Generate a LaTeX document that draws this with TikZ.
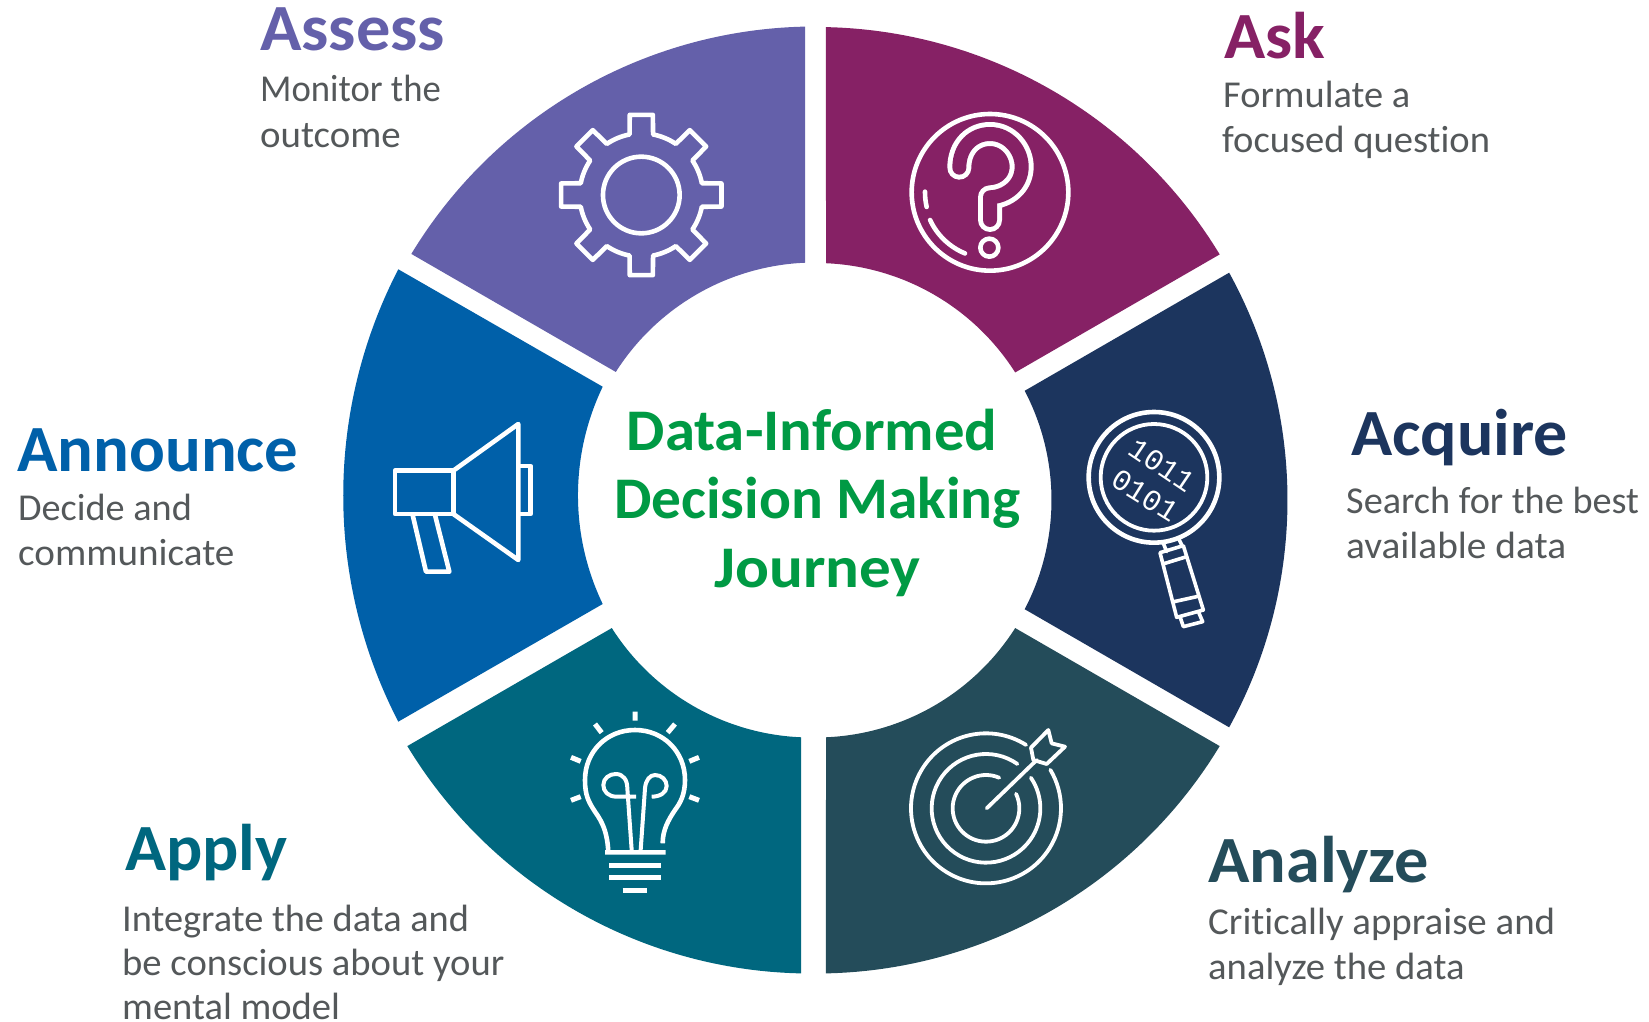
\documentclass[tikz,border=0pt]{standalone}
\usepackage{graphicx}
\usepackage{fontspec}
\setmainfont[Ligatures={NoCommon,NoDiscretionary}]{Carlito}
\newfontfamily\monodigits{Liberation Mono}
\definecolor{cAsk}{HTML}{862165}
\definecolor{cAcquire}{HTML}{1C355E}
\definecolor{cAnalyze}{HTML}{244C5A}
\definecolor{cApply}{HTML}{00677F}
\definecolor{cAnnounce}{HTML}{0060A9}
\definecolor{cAssess}{HTML}{6460AA}
\definecolor{cBody}{HTML}{54585A}
\definecolor{cGreen}{HTML}{009A44}
\usetikzlibrary{calc}
\newcommand\ringsector[5]{%
  \fill[#1] (#2,#3) ++({#4+1.21}:472) arc[start angle={#4+1.21},end angle={#5-1.21},radius=472]
    -- ($(#2,#3)+({#5-2.43}:236)$) arc[start angle={#5-2.43},end angle={#4+2.43},radius=236] -- cycle;}
\newcommand\sx[2]{\scalebox{#1}[1]{#2}}
\tikzset{
  head/.style={anchor=base west,inner sep=0pt,font=\fontsize{66}{66}\selectfont\bfseries},
  bodytxt/.style={anchor=base west,inner sep=0pt,text=cBody,font=\fontsize{38}{38}\selectfont},
  middle/.style={anchor=base,inner sep=0pt,text=cGreen,font=\fontsize{59}{59}\selectfont\bfseries},
  icon/.style={draw=white,line width=4.6pt,line join=round,line cap=round},
  digits/.style={inner sep=0pt,text=white,font=\monodigits\fontsize{30}{30}\selectfont}
}
\begin{document}
\begin{tikzpicture}[x=1pt,y=-1pt]
\useasboundingbox (0,0) rectangle (1649,1022);
\fill[white] (0,0) rectangle (1649,1022);
% ring
\ringsector{cAsk}{816}{499}{-90}{-30}
\ringsector{cAcquire}{815.5}{500}{-30}{30}
\ringsector{cAnalyze}{816}{501.5}{30}{90}
\ringsector{cApply}{811}{501.5}{90}{150}
\fill[cAnnounce] (398.3,269.3) arc[start angle=207.37,end angle=152.63,radius=492] -- (602.7,604) arc[start angle=154.35,end angle=205.65,radius=251] -- cycle;
\ringsector{cAssess}{815}{498.5}{210}{270}
% question icon
\begin{scope}[shift={(800,0)},scale=1/3]
  \draw[icon] (570,577) circle[radius=235];
  \draw[white,line width=24pt,line cap=round,line join=round]
    (478,503) .. controls (478,440) and (520,402) .. (570,402) .. controls (625,402) and (665,450) .. (665,500) .. controls (665,555) and (620,590) .. (570,592) -- (570,660);
  \draw[cAsk,line width=14pt,line cap=round,line join=round]
    (478,503) .. controls (478,440) and (520,402) .. (570,402) .. controls (625,402) and (665,450) .. (665,500) .. controls (665,555) and (620,590) .. (570,592) -- (570,660);
  \draw[icon] (568,743) circle[radius=27];
  \draw[icon] (570,577) ++(180.6:195) arc[start angle=180.6,end angle=167,radius=195];
  \draw[icon] (570,577) ++(155.2:198) arc[start angle=155.2,end angle=112.3,radius=198];
\end{scope}
% magnifier icon
\begin{scope}[shift={(1020,380)},scale=1/3]
  \draw[icon] (402,292) circle[radius=196];
  \draw[icon,line width=3.8pt] (402,292) circle[radius=160];
  \draw[icon,line width=3.6pt] (430,490) -- (440,515) (478,480) -- (488,500)
    (420,518) -- (490,497) -- (550,690) -- (470,712) -- cycle
    (435,550) -- (500,530) (462,665) -- (530,650)
    (480,710) -- (490,740) -- (548,725) -- (535,695);
  \node[digits,rotate=-34] (bitsA) at (425,255) {1011};
  \node[digits,rotate=-32] (bitsB) at (375,347) {0101};
\end{scope}
% target icon
\begin{scope}[shift={(880,700)},scale=1/3]
  \draw[icon,line width=3.8pt] (318,325) ++(-57.7:225) arc[start angle=-57.7,end angle=-390.9,radius=225];
  \draw[icon,line width=3.8pt] (318,325) ++(-54.7:163) arc[start angle=-54.7,end angle=-394.3,radius=163];
  \draw[icon,line width=3.8pt] (318,325) ++(-66.6:100) arc[start angle=-66.6,end angle=-385.8,radius=100];
  \draw[icon,line width=3.8pt] (320,325) -- (470,180)
    (453,143) -- (505,90) -- (515,130) -- (555,140) -- (500,192) -- (460,180) -- cycle;
\end{scope}
% bulb icon
\begin{scope}[shift={(550,700)},scale=1/3]
  \draw[icon,line cap=butt,line width=5pt] (255,35) -- (255,62) (135,72) -- (155,98) (375,72) -- (353,98)
    (63,172) -- (92,184) (447,172) -- (418,184) (63,301) -- (92,290) (447,301) -- (418,290);
  \draw[icon,line cap=butt] (165,457) -- (347,457)
    (175,457) .. controls (172,400) and (160,370) .. (135,335) .. controls (115,305) and (105,285) .. (105,240)
    .. controls (105,155) and (170,90) .. (255,90) .. controls (340,90) and (405,155) .. (405,240)
    .. controls (405,285) and (390,310) .. (375,330) .. controls (355,360) and (338,390) .. (338,430);
  \draw[icon,line cap=butt,line width=4pt] (258,290) -- (200,290) .. controls (175,290) and (160,275) .. (160,255)
    .. controls (160,235) and (178,222) .. (197,222) .. controls (220,222) and (232,240) .. (232,265) -- (245,450);
  \draw[icon,line cap=butt,line width=4pt] (272,450) -- (285,265) .. controls (287,240) and (300,225) .. (315,225)
    .. controls (335,225) and (350,240) .. (350,258) .. controls (350,278) and (330,290) .. (305,290);
  \draw[icon,line cap=butt,line width=5.5pt] (178,496) -- (332,496) (178,533) -- (332,533) (218,572) -- (292,572);
\end{scope}
% megaphone icon
\begin{scope}[shift={(370,400)},scale=1/3]
  \draw[icon] (75,212) rectangle (250,342);
  \draw[icon] (250,212) -- (445,72) -- (445,480) -- (250,342);
  \draw[icon] (450,198) -- (482,198) -- (482,342) -- (450,342);
  \draw[icon] (128,345) -- (168,515) -- (238,515) -- (195,345);
\end{scope}
% gear icon
\begin{scope}[shift={(641.3,195)},scale=1/3]
  \draw[icon] (0,0) circle[radius=115];
  \draw[icon] (-11:185)
    foreach \a in {0,45,...,315} {
      -- ({\a-8.2}:243) -- ({\a+8.2}:243) -- ({\a+11}:185)
      arc[start angle={\a+11},end angle={\a+34},radius=185]
    } -- cycle;
\end{scope}
% texts
\node[head,text=cAssess] (tAssess) at (260,51) {\sx{1.036}{Assess}};
\node[bodytxt] (bAssessA) at (260,102) {\sx{.966}{Monitor the}};
\node[bodytxt] (bAssessB) at (260,147) {\sx{1.023}{outcome}};
\node[head,text=cAsk] (tAsk) at (1224,59) {\sx{1.03}{Ask}};
\node[bodytxt] (bAskA) at (1223,108) {\sx{1.01}{Formulate a}};
\node[bodytxt] (bAskB) at (1222,153) {\sx{1.015}{focused question}};
\node[head,text=cAcquire] (tAcquire) at (1351,455) {\sx{1.03}{Acquire}};
\node[bodytxt] (bAcquireA) at (1346,513) {\sx{1.007}{Search for the best}};
\node[bodytxt] (bAcquireB) at (1346,558) {\sx{1.035}{available data}};
\node[head,text=cAnnounce] (tAnnounce) at (17,471) {\sx{1.011}{Announce}};
\node[bodytxt] (bAnnounceA) at (18,520) {\sx{1.006}{Decide and}};
\node[bodytxt] (bAnnounceB) at (18,565) {\sx{1.03}{communicate}};
\node[head,text=cApply] (tApply) at (125,870) {\sx{1.025}{Apply}};
\node[bodytxt] (bApplyA) at (122,931) {\sx{1.009}{Integrate the data and}};
\node[bodytxt] (bApplyB) at (122,975) {\sx{1.017}{be conscious about your}};
\node[bodytxt] (bApplyC) at (122,1019) {\sx{1.015}{mental model}};
\node[head,text=cAnalyze] (tAnalyze) at (1208,882) {\sx{1.035}{Analyze}};
\node[bodytxt] (bAnalyzeA) at (1208,934) {\sx{1.024}{Critically appraise and}};
\node[bodytxt] (bAnalyzeB) at (1208,979) {\sx{1.017}{analyze the data}};
\node[middle] (cA) at (812,450) {\sx{1.03}{Data-Informed}};
\node[middle] (cB) at (817.5,518) {\sx{1.007}{Decision Making}};
\node[middle] (cC) at (817.5,587) {\sx{1.07}{Journey}};
\end{tikzpicture}
\end{document}
